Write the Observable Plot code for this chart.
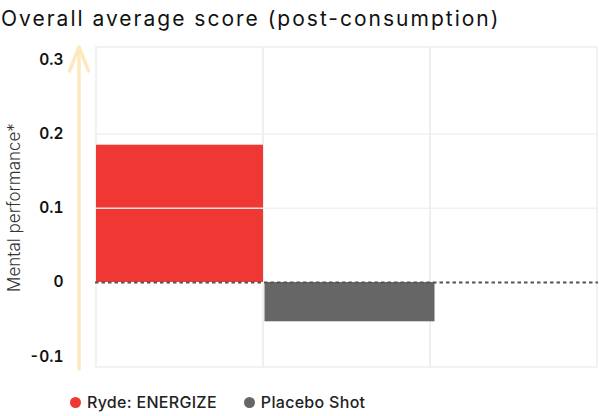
<!DOCTYPE html>
<html><head><meta charset="utf-8">
<script src="https://cdn.jsdelivr.net/npm/d3@7"></script>
<script src="https://cdn.jsdelivr.net/npm/@observablehq/plot@0.6"></script>
<style>
body{margin:0;background:#fff;font-family:Inter, "Noto Sans", sans-serif;}
#title{height:38px;line-height:38px;font-size:21px;letter-spacing:2px;color:#111;white-space:nowrap;padding-left:1px}
#legend{display:flex;align-items:center;height:34px;padding-left:70px;font-size:16px;letter-spacing:0.3px;color:#222;font-weight:500}
.item{display:flex;align-items:center;margin-right:27px}
.dot{width:11px;height:11px;border-radius:50%;margin-right:6px}
svg{overflow:visible}
</style></head><body>
<div id="title">Overall average score (post-consumption)</div>
<div id="chart"></div>
<div id="legend"></div>
<script>
const products = ["Ryde: ENERGIZE", "Placebo Shot"];
const scores = [0.185, -0.053];
const colors = ["#ef3833", "#666666"];
const columns = [...products, "(blank)"];
const yTicks = [-0.1, 0, 0.1, 0.2, 0.3];
const gridValues = [0.1, 0.2];
const yDomain = [-0.1146, 0.3167];
const yLabel = "Mental performance*";

const data = products.map((name, i) => ({name, score: scores[i]}));

const arrowMark = (index, scales, values, dims) => {
  const x = dims.marginLeft - 16;
  const yb = scales.y(yDomain[0]) + 2;
  const yt = scales.y(yDomain[1]);
  const g = d3.create("svg:g")
    .attr("stroke", "#fde9bf").attr("stroke-width", 3.5)
    .attr("fill", "none").attr("stroke-linecap", "round");
  g.append("line").attr("x1", x).attr("x2", x).attr("y1", yb).attr("y2", yt + 1);
  g.append("path").attr("d", `M${x - 9.5},${yt + 24}L${x},${yt}L${x + 9.5},${yt + 24}`)
    .attr("stroke-linejoin", "round");
  return g.node();
};

const chart = Plot.plot({
  width: 599, height: 347,
  marginTop: 9, marginBottom: 18, marginLeft: 95, marginRight: 1,
  style: {fontFamily: "Inter, 'Noto Sans', sans-serif", color: "#111", overflow: "visible"},
  x: {domain: columns, padding: 0, axis: null},
  y: {domain: yDomain},
  color: {domain: products, range: colors},
  marks: [
    Plot.barY(columns, {x: d => d, y1: yDomain[0], y2: yDomain[1], fill: "none", stroke: "#eeeeee", strokeWidth: 1.5}),
    Plot.barY(data.slice(0, 1), {x: "name", y: "score", fill: "name"}),
    Plot.barY(data.slice(1), {x: "name", y: "score", fill: "name", insetLeft: 1.5, insetRight: -4.5}),
    Plot.ruleY(gridValues, {stroke: "#eeeeee", strokeOpacity: 0.9, strokeWidth: 1.5}),
    Plot.ruleY([0], {stroke: "#555", strokeDasharray: "3.5,3", strokeWidth: 2}),
    Plot.axisY({ticks: yTicks, tickSize: 0, tickPadding: 32, tickFormat: d => String(d),
      fontSize: 15.5, fontWeight: 600, label: null}),
    Plot.text([yLabel], {text: d => d, frameAnchor: "left", textAnchor: "middle", rotate: -90, dx: -81,
      fontSize: 17, fontWeight: 300, fill: "#333"}),
    arrowMark
  ]
});
document.getElementById("chart").append(chart);

const legend = document.getElementById("legend");
products.forEach((p, i) => {
  const item = document.createElement("div");
  item.className = "item";
  const dot = document.createElement("span");
  dot.className = "dot";
  dot.style.background = colors[i];
  const t = document.createElement("span");
  t.textContent = p;
  item.append(dot, t);
  legend.append(item);
});
</script>
</body></html>
